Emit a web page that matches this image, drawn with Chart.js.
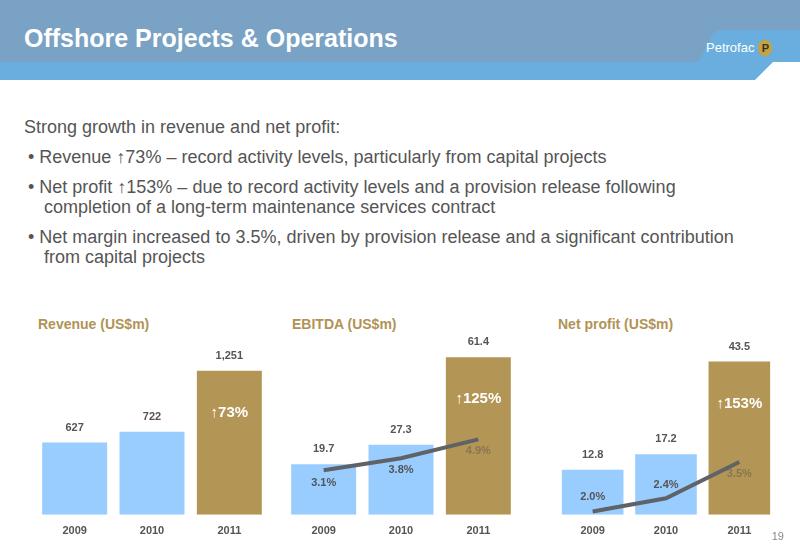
<!DOCTYPE html>
<html>
<head>
<meta charset="utf-8">
<script src="https://cdn.jsdelivr.net/npm/chart.js@4"></script>
<style>
  body { margin: 0; width: 800px; height: 554px; position: relative; overflow: hidden; background: #fff; font-family: "Liberation Sans", Arial, sans-serif; }
  #band1 { position: absolute; left: 0; top: 0; width: 800px; height: 62px; background: #7aa2c4; }
  #band2 { position: absolute; left: 0; top: 62px; width: 800px; height: 18px; background: #6aaee0; }
  #cut { position: absolute; left: 690px; top: 30px; width: 110px; height: 50px; background: #6aaee0;
         clip-path: polygon(0 100%, 20% 10%, 26% 0, 100% 0, 100% 100%); }
  #white { position: absolute; left: 755px; top: 62px; width: 45px; height: 18px; background: #fff;
           clip-path: polygon(0 100%, 40% 0, 100% 0, 100% 100%); }
  h1 { position: absolute; left: 24px; top: 24px; margin: 0; color: #fff; font-size: 25px; font-weight: bold; }
  #logo { position: absolute; left: 706px; top: 40px; color: #fff; font-size: 13px; }
  #logo span { display: inline-block; width: 14px; height: 16px; border-radius: 50%; background: #c9a23a; color: #333; font-size: 11px; font-weight: bold; text-align: center; line-height: 16px; margin-left: 4px; }
  #text { position: absolute; left: 24px; top: 117px; width: 730px; color: #555; font-size: 18px; line-height: 20px; }
  #text p { margin: 0 0 10px 0; }
  #text .b { padding-left: 20px; text-indent: -16px; }
  .title { position: absolute; top: 316px; color: #b09355; font-weight: bold; font-size: 14px; }
  canvas { position: absolute; }
  #page { position: absolute; right: 16px; top: 530px; color: #888; font-size: 11px; }
</style>
</head>
<body>
<div id="band1"></div><div id="band2"></div><div id="cut"></div><div id="white"></div>
<h1>Offshore Projects &amp; Operations</h1>
<div id="logo">Petrofac<span>P</span></div>
<div id="text">
  <p>Strong growth in revenue and net profit:</p>
  <p class="b">• Revenue ↑73% – record activity levels, particularly from capital projects</p>
  <p class="b">• Net profit ↑153% – due to record activity levels and a provision release following completion of a long-term maintenance services contract</p>
  <p class="b">• Net margin increased to 3.5%, driven by provision release and a significant contribution from capital projects</p>
</div>
<div class="title" style="left:38px">Revenue (US$m)</div>
<div class="title" style="left:292px">EBITDA (US$m)</div>
<div class="title" style="left:558px">Net profit (US$m)</div>
<canvas id="c1" style="left:36px;top:335px" width="232" height="205"></canvas>
<canvas id="c2" style="left:285px;top:335px" width="232" height="205"></canvas>
<canvas id="c3" style="left:556px;top:335px" width="220" height="205"></canvas>
<div id="page">19</div>
<script>
const years = ['2009', '2010', '2011'];
const revenue = [627, 722, 1251];
const revenueLabels = ['627', '722', '1,251'];
const ebitda = [19.7, 27.3, 61.4];
const ebitdaMargin = [3.1, 3.8, 4.9];
const netProfit = [12.8, 17.2, 43.5];
const netMargin = [2.0, 2.4, 3.5];
const growth = ['↑73%', '↑125%', '↑153%'];

const blue = '#99ccff', gold = '#b39656';

function labelPlugin(valueLabels, growthText, pctOffsets) {
  return {
    id: 'labels',
    afterDatasetsDraw(chart) {
      const ctx = chart.ctx;
      const bars = chart.getDatasetMeta(chart.data.datasets.length - 1).data;
      ctx.save();
      ctx.textAlign = 'center';
      ctx.font = 'bold 11px "Liberation Sans", Arial';
      ctx.fillStyle = '#555';
      bars.forEach((b, i) => ctx.fillText(valueLabels[i], b.x, b.y - 12));
      const top = bars[2];
      ctx.font = 'bold 15px "Liberation Sans", Arial';
      ctx.fillStyle = '#fff';
      ctx.fillText(growthText, top.x, top.y + 46);
      if (pctOffsets) {
        const pts = chart.getDatasetMeta(0).data;
        ctx.font = 'bold 11px "Liberation Sans", Arial';
        pts.forEach((p, i) => {
          ctx.fillStyle = i === 2 ? '#8a7550' : '#555';
          ctx.fillText(chart.data.datasets[0].data[i].toFixed(1) + '%', p.x, p.y + pctOffsets[i]);
        });
      }
      ctx.restore();
    }
  };
}

function makeChart(id, values, labels, growthText, yMax, margins, y2min, y2max, offsets) {
  const datasets = [];
  if (margins) {
    datasets.push({ type: 'line', data: margins, yAxisID: 'y2', borderColor: '#5f6368', borderWidth: 4,
      pointRadius: 0, tension: 0, order: 0 });
  }
  datasets.push({ type: 'bar', data: values, backgroundColor: [blue, blue, gold],
    barPercentage: 0.84, categoryPercentage: 1, order: 1 });
  new Chart(document.getElementById(id), {
    data: { labels: years, datasets: datasets },
    options: {
      responsive: false, animation: false,
      layout: { padding: { top: 10 } },
      plugins: { legend: { display: false }, tooltip: { enabled: false } },
      scales: {
        x: { grid: { display: false }, border: { display: false },
             ticks: { color: '#555', font: { weight: 'bold', size: 11, family: '"Liberation Sans", Arial' }, padding: 2 } },
        y: { display: false, min: 0, max: yMax },
        y2: { display: false, min: y2min, max: y2max }
      }
    },
    plugins: [labelPlugin(labels, growthText, offsets)]
  });
}

makeChart('c1', revenue, revenueLabels, growth[0], 1474, null);
makeChart('c2', ebitda, ebitda.map(v => v.toFixed(1)), growth[1], 66.2, ebitdaMargin, 0.5, 10.4, [16, 15, 15]);
makeChart('c3', netProfit, netProfit.map(v => v.toFixed(1)), growth[2], 48.2, netMargin, 1.9, 7.05, [-12, -10, 15]);
</script>
</body>
</html>
